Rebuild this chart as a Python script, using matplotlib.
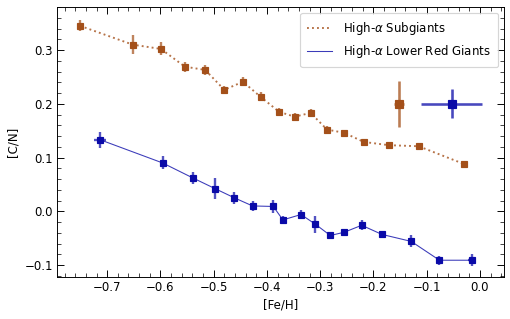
import matplotlib
matplotlib.use("Agg")
import matplotlib.pyplot as plt
from matplotlib.ticker import AutoMinorLocator

# high-alpha subgiants
sg_feh = [-0.751, -0.652, -0.599, -0.554, -0.516, -0.480, -0.445, -0.412, -0.377,
          -0.348, -0.318, -0.287, -0.255, -0.218, -0.171, -0.115, -0.030]
sg_cn = [0.345, 0.310, 0.302, 0.269, 0.263, 0.226, 0.241, 0.213, 0.185,
         0.176, 0.183, 0.152, 0.146, 0.129, 0.123, 0.121, 0.088]
sg_err = [0.010, 0.018, 0.012, 0.009, 0.010, 0.008, 0.008, 0.008, 0.007,
          0.007, 0.008, 0.006, 0.006, 0.006, 0.005, 0.006, 0.006]

# high-alpha lower red giants
rg_feh = [-0.713, -0.596, -0.539, -0.497, -0.461, -0.427, -0.388, -0.370, -0.336,
          -0.309, -0.281, -0.255, -0.222, -0.184, -0.129, -0.076, -0.015]
rg_cn = [0.133, 0.090, 0.062, 0.042, 0.025, 0.010, 0.009, -0.016, -0.006,
         -0.024, -0.045, -0.039, -0.026, -0.043, -0.056, -0.091, -0.091]
rg_err = [0.015, 0.012, 0.011, 0.020, 0.011, 0.009, 0.012, 0.008, 0.008,
          0.016, 0.007, 0.007, 0.009, 0.005, 0.011, 0.008, 0.011]
rg_xerr_first = 0.011
rg_xerr_last = 0.008

# representative uncertainties
rep_sg = (-0.152, 0.2, 0.009, 0.043)
rep_rg = (-0.053, 0.2, 0.0575, 0.027)

c_sg = '#a4501a'
c_rg = '#0a0aa8'

fig, ax = plt.subplots(figsize=(6.0, 3.753), dpi=85)

rg_xerr = [0.0] * len(rg_feh)
rg_xerr[0] = rg_xerr_first
rg_xerr[-1] = rg_xerr_last

ax.plot(sg_feh, sg_cn, ls=':', lw=1.6, color=c_sg, alpha=0.8, label=r'High-$\alpha$ Subgiants')
ax.errorbar(sg_feh, sg_cn, yerr=sg_err, fmt='none', ecolor=c_sg, elinewidth=2, alpha=0.7)
ax.plot(sg_feh, sg_cn, 's', ms=5.8, color=c_sg)

ax.plot(rg_feh, rg_cn, ls='-', lw=0.9, color=c_rg, alpha=0.8, label=r'High-$\alpha$ Lower Red Giants')
ax.errorbar(rg_feh, rg_cn, yerr=rg_err, xerr=rg_xerr, fmt='none', ecolor=c_rg, elinewidth=2, alpha=0.7)
ax.plot(rg_feh, rg_cn, 's', ms=5.8, color=c_rg)

ax.errorbar(rep_sg[0], rep_sg[1], xerr=rep_sg[2], yerr=rep_sg[3], fmt='none',
            ecolor=c_sg, elinewidth=2.2, alpha=0.75)
ax.errorbar(rep_rg[0], rep_rg[1], xerr=rep_rg[2], yerr=rep_rg[3], fmt='none',
            ecolor=c_rg, elinewidth=2.2, alpha=0.75)
ax.plot(rep_sg[0], rep_sg[1], 's', ms=7, color=c_sg)
ax.plot(rep_rg[0], rep_rg[1], 's', ms=7, color=c_rg)

ax.set_xlim(-0.794, 0.045)
ax.set_ylim(-0.122, 0.38)
ax.set_xlabel('[Fe/H]')
ax.set_ylabel('[C/N]')
ax.xaxis.set_minor_locator(AutoMinorLocator(5))
ax.yaxis.set_minor_locator(AutoMinorLocator(5))
ax.tick_params(which='both', direction='in', top=True, right=True)
ax.tick_params(which='major', length=6)
ax.tick_params(which='minor', length=3)
ax.legend(loc='upper right', borderpad=0.6, labelspacing=0.5,
          handlelength=2.1, handletextpad=0.95)

fig.subplots_adjust(left=0.112, right=0.988, top=0.978, bottom=0.132)
fig.savefig('out.png', dpi=85)
